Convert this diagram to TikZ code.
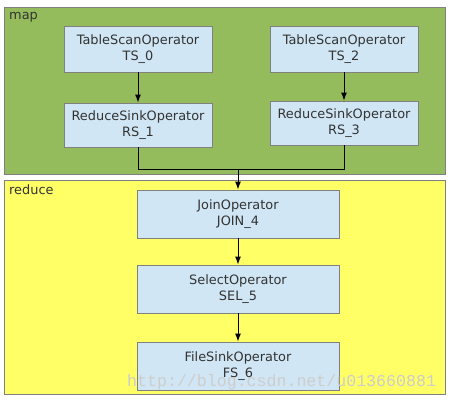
\documentclass[tikz,border=0pt]{standalone}
\usepackage{fontspec}
\setmainfont{DejaVu Sans}
\newfontfamily\wmfont{Liberation Mono}
\usetikzlibrary{arrows.meta}
\definecolor{mapgreen}{RGB}{148,188,92}
\definecolor{redyellow}{RGB}{255,255,102}
\definecolor{opblue}{RGB}{208,230,244}
\definecolor{edgegray}{RGB}{128,128,128}
\definecolor{txtgray}{RGB}{51,51,51}
\definecolor{wmgray}{RGB}{205,205,205}
\tikzset{
  opbox/.style={draw=edgegray, line width=0.9pt, fill=opblue, align=center, text=txtgray,
    font=\fontsize{12.9}{15.5}\selectfont, inner sep=0pt},
  grp/.style={draw=edgegray, line width=0.9pt},
  flow/.style={line width=1pt, -{Latex[length=8pt,width=6pt]}},
  grplabel/.style={anchor=west, text=txtgray, font=\fontsize{12.9}{15}\selectfont, inner sep=0pt}
}
\begin{document}
\begin{tikzpicture}[x=1pt,y=-1pt]
\useasboundingbox (0,0) rectangle (449,400);
\fill[white] (0,0) rectangle (449,400);
\node[grp, fill=mapgreen, minimum width=441pt, minimum height=167pt, anchor=north west] (mapg) at (4,7) {};
\node[grp, fill=redyellow, minimum width=441pt, minimum height=214pt, anchor=north west] (redg) at (4,180) {};
\node[grplabel] (maplbl) at (9,17) {map};
\node[grplabel] (redlbl) at (9,190) {reduce};
\node[opbox, minimum width=148pt, minimum height=46pt] (ts0) at (138,49) {TableScanOperator\\TS\_0};
\node[opbox, minimum width=148pt, minimum height=46pt] (ts2) at (344,49) {TableScanOperator\\TS\_2};
\node[opbox, minimum width=148pt, minimum height=44pt] (rs1) at (138,125) {ReduceSinkOperator\\RS\_1};
\node[opbox, minimum width=148pt, minimum height=44pt] (rs3) at (344,123) {ReduceSinkOperator\\RS\_3};
\node[opbox, minimum width=202pt, minimum height=48pt] (join) at (238,214) {JoinOperator\\JOIN\_4};
\node[opbox, minimum width=202pt, minimum height=48pt] (sel) at (238,289) {SelectOperator\\SEL\_5};
\node[opbox, minimum width=202pt, minimum height=48pt] (fs) at (238,366) {FileSinkOperator\\FS\_6};
\coordinate (m) at (238,169);
\draw[flow] (ts0) -- (rs1);
\draw[flow] (ts2) -- (rs3);
\draw[line width=1pt] (rs1.south) |- (m);
\draw[line width=1pt] (rs3.south) |- (m);
\draw[flow] (m) -- (join.north);
\draw[flow] (join) -- (sel);
\draw[flow] (sel) -- (fs);
\node[anchor=base west, inner sep=0pt, text=wmgray, font=\wmfont\fontsize{16.6}{17}\selectfont] (wm) at (127,386) {http://blog.csdn.net/u013660881};
\end{tikzpicture}
\end{document}
